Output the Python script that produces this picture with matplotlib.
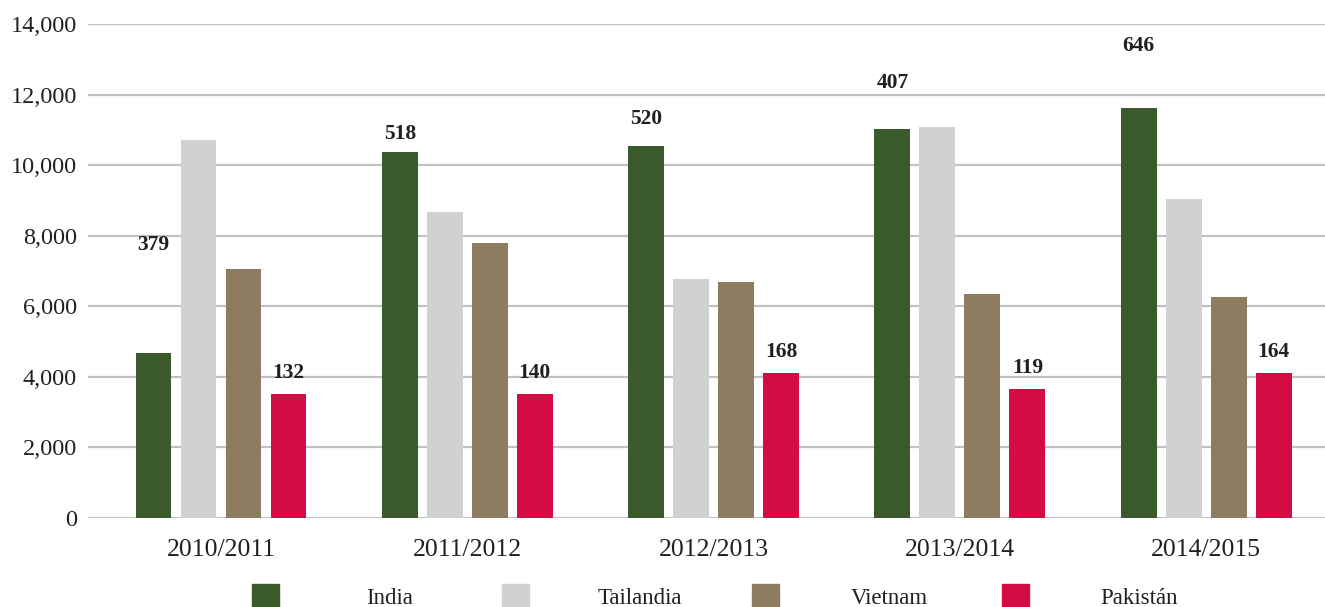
import numpy as np
import matplotlib
matplotlib.use("Agg")
import matplotlib.pyplot as plt
from matplotlib.patches import Rectangle

# ==================== DATA ====================
seasons = ["2010/2011", "2011/2012", "2012/2013", "2013/2014", "2014/2015"]
series = ["India", "Tailandia", "Vietnam", "Pakistán"]
india = [4680, 10370, 10540, 11020, 11620]
tailandia = [10710, 8670, 6770, 11080, 9040]
vietnam = [7060, 7790, 6690, 6350, 6260]
pakistan = [3510, 3510, 4110, 3660, 4110]
india_labels = ["379", "518", "520", "407", "646"]
india_label_y = [7740, 10880, 11310, 12330, 13380]
pakistan_labels = ["132", "140", "168", "119", "164"]
colors = ["#3a5a2b", "#d0d1d3", "#8e7c60", "#d40c44"]

# ==================== PLOT ====================
plt.rcParams['font.family'] = ['Liberation Serif', 'DejaVu Serif']
TXT = '#231f20'

fig = plt.figure(figsize=(13.25, 6.07), dpi=100)
ax = fig.add_axes([88 / 1325, 1 - 518 / 607, 1237 / 1325, (518 - 24) / 607])

x = np.arange(len(seasons))
pitch = 0.1827
width = 0.146
values = [india, tailandia, vietnam, pakistan]
for i, (vals, col) in enumerate(zip(values, colors)):
    ax.bar(x + (i - 1.5) * pitch, vals, width, color=col, zorder=3)

# value labels
for xi, lab, ly in zip(x, india_labels, india_label_y):
    ax.text(xi - 1.5 * pitch, ly, lab, ha='center', va='center',
            fontsize=15.5, fontweight='bold', color=TXT)
for xi, lab, v in zip(x, pakistan_labels, pakistan):
    ax.annotate(lab, (xi + 1.5 * pitch, v), xytext=(0, 15), textcoords='offset points',
                ha='center', va='center', fontsize=15.5, fontweight='bold', color=TXT)

ax.set_xlim(-0.540, 4.482)
ax.set_ylim(0, 14000)
ax.set_yticks(range(0, 14001, 2000))
ax.set_yticklabels([f"{v:,}" for v in range(0, 14001, 2000)])
ax.set_xticks(x)
ax.set_xticklabels(seasons)
ax.tick_params(axis='both', length=0, colors=TXT)
ax.tick_params(axis='y', pad=8, labelsize=17.5)
ax.tick_params(axis='x', pad=15, labelsize=18.5)
ax.yaxis.grid(True, color='#c2c2c4', linewidth=1.6, zorder=0)
ax.set_axisbelow(True)
for s in ax.spines.values():
    s.set_visible(False)

# legend drawn manually along the bottom
sq_left = [252, 502, 752, 1002]
for name, col, sx in zip(series, colors, sq_left):
    fig.patches.append(Rectangle((sx / 1325, 0), 27 / 1325, 23 / 607,
                                 transform=fig.transFigure, color=col))
    fig.text((sx + 13.5 + 124) / 1325, 9 / 607, name, ha='center', va='center',
             fontsize=16.5, color=TXT)

plt.savefig("out.png", dpi=100)
plt.close()
